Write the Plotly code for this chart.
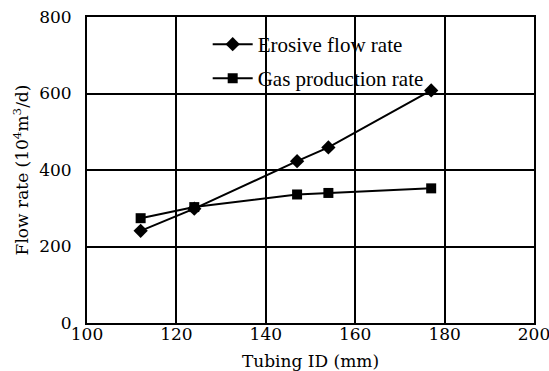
import plotly.graph_objects as go

tubing_id = [112, 124, 147, 154, 177]
erosive = [241, 299, 423, 459, 608]
gas = [274, 303, 336, 340, 352]

SERIF = "Liberation Serif"
WIDE = "DejaVu Serif"

fig = go.Figure()
fig.add_trace(go.Scatter(x=tubing_id, y=erosive, mode="lines+markers", name="Erosive flow rate",
                         line=dict(color="black", width=2), legend="legend",
                         marker=dict(symbol="diamond", size=11, color="black")))
fig.add_trace(go.Scatter(x=tubing_id, y=gas, mode="lines+markers", name="Gas production rate",
                         line=dict(color="black", width=2), legend="legend2",
                         marker=dict(symbol="square", size=10, color="black")))

leg_common = dict(x=0.27, xanchor="left", yanchor="top", bgcolor="rgba(0,0,0,0)",
                  font=dict(size=21, family=SERIF), itemwidth=40)

fig.update_layout(
    width=549, height=371,
    margin=dict(l=87, r=15, t=17, b=48),
    paper_bgcolor="white", plot_bgcolor="white",
    font=dict(family=SERIF, color="black", size=18),
    showlegend=True,
    legend=dict(y=0.977, **leg_common),
    legend2=dict(y=0.866, **leg_common),
    xaxis=dict(range=[100, 200], dtick=20, showgrid=True, gridcolor="black", gridwidth=1.5,
               showline=True, linecolor="black", linewidth=2, mirror=True, zeroline=False,
               automargin=False, ticklabelstandoff=-5, ticklen=0, ticklabeloverflow="allow",
               tickfont=dict(size=17, family=WIDE),
               title=dict(text="Tubing ID (mm)", font=dict(size=17, family=WIDE), standoff=14)),
    yaxis=dict(range=[0, 800], dtick=200, showgrid=True, gridcolor="black", gridwidth=1.5,
               showline=True, linecolor="black", linewidth=2, mirror=True, zeroline=False,
               automargin=False, ticklen=0,
               tickfont=dict(size=17, family=WIDE), ticklabelstandoff=10,
               title=dict(text="Flow rate (10<sup>4</sup>m<sup>3</sup>/d)", font=dict(size=17, family=WIDE), standoff=6)),
)

fig.write_html("out.html")
